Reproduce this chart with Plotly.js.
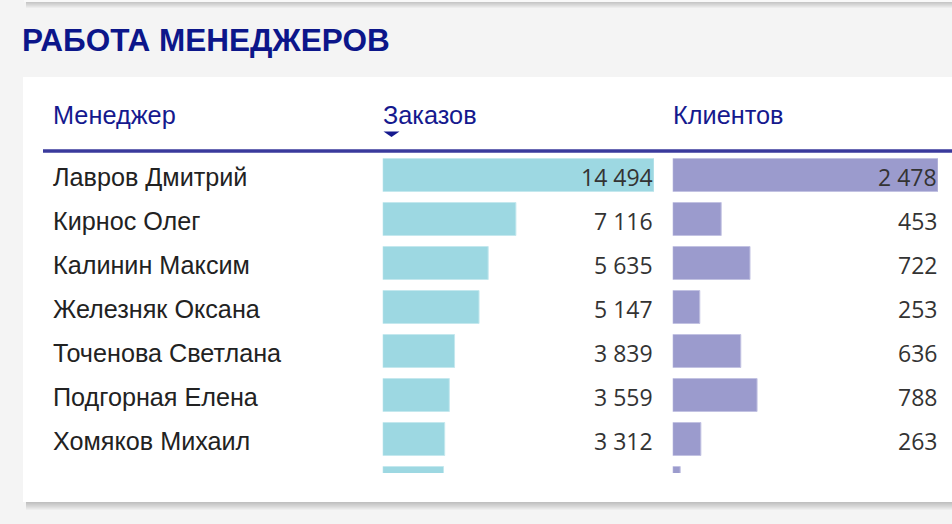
<!DOCTYPE html>
<html>
<head>
<meta charset="utf-8">
<script src="https://cdn.plot.ly/plotly-3.0.1.min.js"></script>
<style>html,body{margin:0;padding:0;background:#f4f4f4;overflow:hidden}#chart{width:952px;height:524px}</style>
</head>
<body>
<div id="chart"></div>
<script>
// ---- data ----
const chartTitle = 'РАБОТА МЕНЕДЖЕРОВ';
const columnHeaders = ['Менеджер', 'Заказов', 'Клиентов'];
const managers = ['Лавров Дмитрий', 'Кирнос Олег', 'Калинин Максим', 'Железняк Оксана',
                  'Точенова Светлана', 'Подгорная Елена', 'Хомяков Михаил', '…'];
const orders  = [14494, 7116, 5635, 5147, 3839, 3559, 3312, 3250];
const clients = [2478, 453, 722, 253, 636, 788, 263, 70];

// ---- helpers (pixel -> paper) ----
const W = 952, H = 524;
const px = p => p / W;
const py = p => 1 - p / H;

const maxOrders = Math.max(...orders);
const maxClients = Math.max(...clients);

const traces = [
  {
    type: 'bar', orientation: 'h', y: managers, x: orders,
    xaxis: 'x', yaxis: 'y', width: 0.75,
    marker: {color: '#9dd8e2', line: {color: '#c4e8ee', width: 1}},
    hoverinfo: 'skip'
  },
  {
    type: 'bar', orientation: 'h', y: managers, x: clients,
    xaxis: 'x2', yaxis: 'y', width: 0.75,
    marker: {color: '#9b9bcd', line: {color: '#c2c2e2', width: 1}},
    hoverinfo: 'skip'
  }
];

const fmt = v => v.toLocaleString('ru-RU').replace(/\s/g, ' ');

const annotations = [];
annotations.push({
  xref: 'paper', yref: 'paper', x: px(19.5), y: py(40), xanchor: 'left', yanchor: 'middle',
  text: '<b>' + chartTitle + '</b>', showarrow: false,
  font: {family: 'Liberation Sans, Arial, sans-serif', size: 31.5, color: '#0c168a'}
});
const headerX = [51, 380.5, 670.5];
columnHeaders.forEach((h, i) => annotations.push({
  xref: 'paper', yref: 'paper', x: px(headerX[i]), y: py(114.5), xanchor: 'left', yanchor: 'middle',
  text: h, showarrow: false,
  font: {family: 'Liberation Sans, Arial, sans-serif', size: 25.3, color: '#15198e'}
}));
managers.forEach((m, i) => {
  annotations.push({
    xref: 'paper', yref: 'y', x: px(51), y: m, xanchor: 'left', yanchor: 'middle', yshift: -2,
    text: m, showarrow: false,
    font: {family: 'Liberation Sans, Arial, sans-serif', size: 25.2, color: '#222222'}
  });
  annotations.push({
    xref: 'x', yref: 'y', x: maxOrders, y: m, xanchor: 'right', yanchor: 'middle', xshift: 1, yshift: -2,
    text: fmt(orders[i]), showarrow: false,
    font: {family: 'Open Sans, Noto Sans, sans-serif', size: 23, color: '#333333'}
  });
  annotations.push({
    xref: 'x2', yref: 'y', x: maxClients, y: m, xanchor: 'right', yanchor: 'middle', xshift: 1, yshift: -2,
    text: fmt(clients[i]), showarrow: false,
    font: {family: 'Open Sans, Noto Sans, sans-serif', size: 23, color: '#333333'}
  });
});

const shapes = [];
// top card shadow + card
for (let k = 1; k <= 7; k++) {
  shapes.push({type: 'rect', xref: 'paper', yref: 'paper', layer: 'below',
    x0: px(26), x1: px(970), y0: py(1 + k), y1: py(-30),
    fillcolor: 'rgba(0,0,0,0.03)', line: {width: 0}});
}
shapes.push({type: 'rect', xref: 'paper', yref: 'paper', layer: 'below',
  x0: px(24), x1: px(970), y0: py(2), y1: py(-30), fillcolor: '#f9f9f9', line: {width: 0}});
// main card shadow + card
for (let k = 1; k <= 8; k++) {
  shapes.push({type: 'rect', xref: 'paper', yref: 'paper', layer: 'below',
    x0: px(26), x1: px(970), y0: py(502 + k), y1: py(80),
    fillcolor: 'rgba(0,0,0,0.028)', line: {width: 0}});
}
shapes.push({type: 'rect', xref: 'paper', yref: 'paper', layer: 'below',
  x0: px(23), x1: px(970), y0: py(502), y1: py(77), fillcolor: '#ffffff', line: {width: 0}});
// header rule
shapes.push({type: 'line', xref: 'paper', yref: 'paper', layer: 'above',
  x0: px(43), x1: px(970), y0: py(151), y1: py(151), line: {color: '#3a3a9c', width: 3.5}});
// sort triangle
shapes.push({type: 'path', xref: 'paper', yref: 'paper', layer: 'above',
  path: `M ${px(383.5)} ${py(131.5)} L ${px(399.5)} ${py(131.5)} L ${px(391.5)} ${py(137)} Z`,
  fillcolor: '#15198e', line: {width: 0}});

const layout = {
  width: W, height: H,
  margin: {l: 0, r: 0, t: 0, b: 0, pad: 0},
  paper_bgcolor: '#f4f4f4', plot_bgcolor: 'rgba(0,0,0,0)',
  showlegend: false, bargap: 0,
  xaxis: {domain: [px(382.7), px(654)], range: [0, maxOrders], visible: false, fixedrange: true},
  xaxis2: {domain: [px(672.7), px(938)], range: [0, maxClients], visible: false, fixedrange: true, anchor: 'y'},
  yaxis: {type: 'category', categoryarray: managers, categoryorder: 'array',
          domain: [1 - 473 / H, 1 - 153 / H], range: [(473 - 175) / 44, (153 - 175) / 44],
          visible: false, fixedrange: true},
  annotations: annotations,
  shapes: shapes
};

Plotly.newPlot('chart', traces, layout, {staticPlot: true, displayModeBar: false});
</script>
</body>
</html>
